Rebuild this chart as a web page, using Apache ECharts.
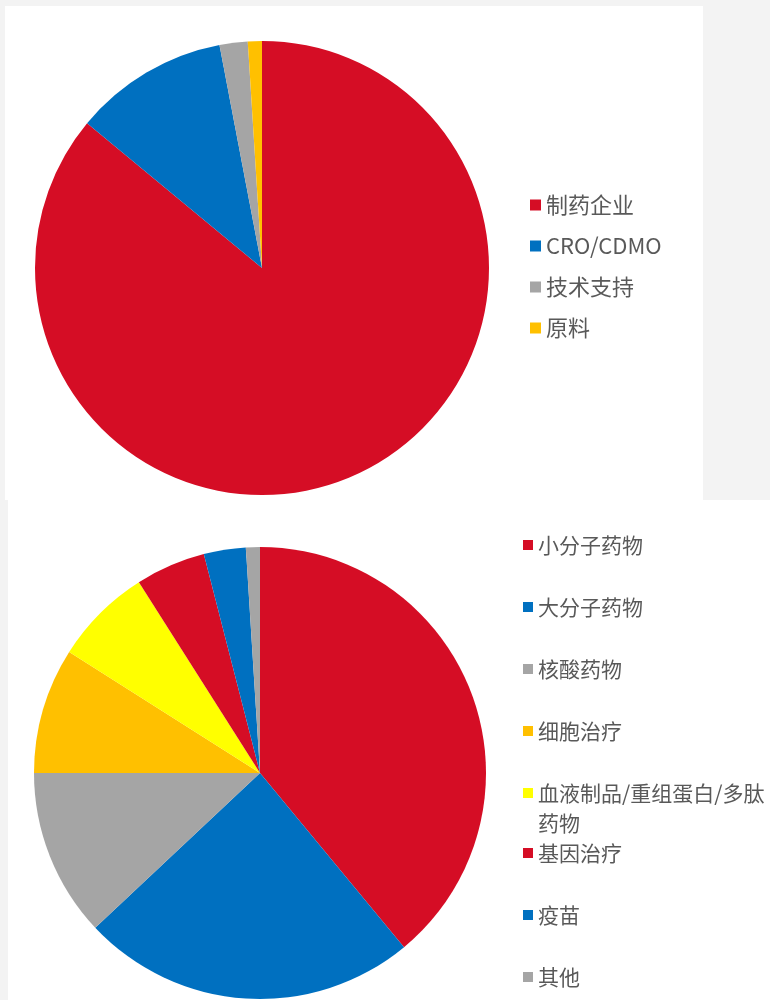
<!DOCTYPE html>
<html>
<head>
<meta charset="utf-8">
<script src="https://cdn.jsdelivr.net/npm/echarts@6/dist/echarts.min.js"></script>
<style>
  html, body { margin: 0; padding: 0; background: #f3f3f3; }
  #main { width: 770px; height: 1000px; }
</style>
</head>
<body>
<div id="main"></div>
<script>
// top pie: customer type
const topNames = ['制药企业', 'CRO/CDMO', '技术支持', '原料'];
const topValues = [86, 11, 2, 1];
const topColors = ['#d50d25', '#0070c0', '#a5a5a5', '#ffc000'];

// bottom pie: drug type
const botNames = ['小分子药物', '大分子药物', '核酸药物', '细胞治疗',
  '血液制品/重组蛋白/多肽药物', '基因治疗', '疫苗', '其他'];
const botValues = [39, 24, 12, 9, 7, 5, 3, 1];
const botColors = ['#d50d25', '#0070c0', '#a5a5a5', '#ffc000',
  '#ffff00', '#d50d25', '#0070c0', '#a5a5a5'];

const font = '"Noto Sans CJK SC", "Noto Sans", sans-serif';

function pieData(names, values, colors) {
  return names.map((n, i) => ({ name: n, value: values[i], itemStyle: { color: colors[i] } }));
}

const chart = echarts.init(document.getElementById('main'), null, { renderer: 'canvas' });

const legendBase = {
  orient: 'vertical',
  icon: 'rect',
  padding: 0,
  selectedMode: false
};

chart.setOption({
  animation: false,
  backgroundColor: '#f3f3f3',
  graphic: [
    { type: 'rect', z: -10, shape: { x: 5, y: 6, width: 698, height: 494 }, style: { fill: '#ffffff' } },
    { type: 'rect', z: -10, shape: { x: 8, y: 500, width: 762, height: 500 }, style: { fill: '#ffffff' } }
  ],
  legend: [
    Object.assign({}, legendBase, {
      data: topNames,
      left: 530, top: 193,
      itemWidth: 11, itemHeight: 11, itemGap: 17,
      textStyle: { color: '#595959', fontFamily: font, fontSize: 22, lineHeight: 24 }
    }),
    Object.assign({}, legendBase, {
      data: botNames.slice(0, 4),
      left: 523, top: 533,
      itemWidth: 10, itemHeight: 10, itemGap: 38,
      textStyle: { color: '#595959', fontFamily: font, fontSize: 21, lineHeight: 24 }
    }),
    Object.assign({}, legendBase, {
      // blank first line keeps the marker level with the first text line
      data: botNames.slice(4, 5),
      left: 523, top: 748,
      itemWidth: 10, itemHeight: 10,
      formatter: name => ' \n' + name,
      textStyle: {
        color: '#595959', fontFamily: font, fontSize: 21, lineHeight: 30,
        width: 236, overflow: 'break'
      }
    }),
    Object.assign({}, legendBase, {
      data: botNames.slice(5),
      left: 523, top: 841,
      itemWidth: 10, itemHeight: 10, itemGap: 38,
      textStyle: { color: '#595959', fontFamily: font, fontSize: 21, lineHeight: 24 }
    })
  ],
  series: [
    {
      type: 'pie',
      center: [262, 268],
      radius: 227,
      startAngle: 90,
      label: { show: false },
      labelLine: { show: false },
      emphasis: { disabled: true },
      itemStyle: { borderWidth: 0 },
      data: pieData(topNames, topValues, topColors)
    },
    {
      type: 'pie',
      center: [260, 773],
      radius: 226,
      startAngle: 90,
      label: { show: false },
      labelLine: { show: false },
      emphasis: { disabled: true },
      itemStyle: { borderWidth: 0 },
      data: pieData(botNames, botValues, botColors)
    }
  ]
});
</script>
</body>
</html>
